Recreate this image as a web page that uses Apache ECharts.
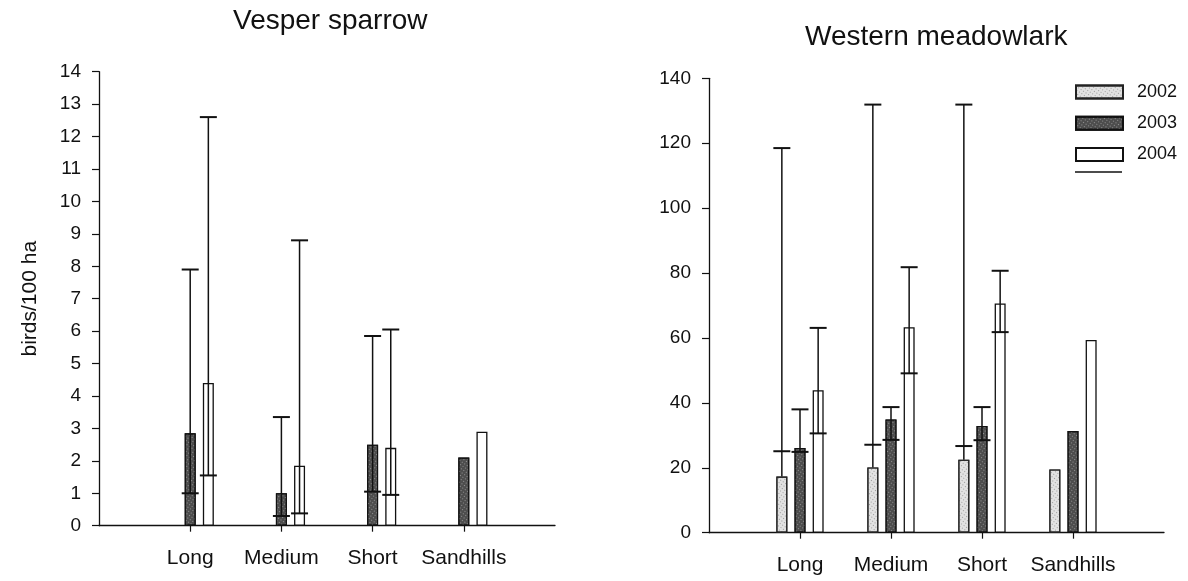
<!DOCTYPE html>
<html>
<head>
<meta charset="utf-8">
<script src="https://cdn.jsdelivr.net/npm/echarts@6/dist/echarts.min.js"></script>
<style>
  html, body { margin: 0; padding: 0; background: #fff; }
  #chart { width: 1188px; height: 581px; }
</style>
</head>
<body>
<div id="chart"></div>
<script>
// Grassland habitat classes and survey years
const habitats = ['Long', 'Medium', 'Short', 'Sandhills'];
const years = ['2002', '2003', '2004'];

// Vesper sparrow density, birds/100 ha (no 2002 estimates)
const vesper2002 = [null, null, null, null];
const vesper2003 = [2.85, 1.0, 2.5, 2.1];
const vesper2004 = [4.4, 1.85, 2.4, 2.9];
const vesper2003Low = [1.0, 0.3, 1.05, null];
const vesper2003High = [7.9, 3.35, 5.85, null];
const vesper2004Low = [1.55, 0.38, 0.95, null];
const vesper2004High = [12.6, 8.8, 6.05, null];

// Western meadowlark density, birds/100 ha
const meadow2002 = [17.3, 20.1, 22.5, 19.5];
const meadow2003 = [26.1, 34.9, 32.9, 31.3];
const meadow2004 = [43.9, 63.3, 70.6, 59.4];
const meadow2002Low = [25.1, 27.1, 26.7, null];
const meadow2002High = [118.5, 131.9, 131.9, null];
const meadow2003Low = [24.9, 28.6, 28.5, null];
const meadow2003High = [38.0, 38.7, 38.7, null];
const meadow2004Low = [30.6, 49.1, 61.8, null];
const meadow2004High = [63.1, 81.8, 80.7, null];

// Value axis ranges
const vesperAxis = { max: 14, interval: 1 };
const meadowAxis = { max: 140, interval: 20 };

// ---- drawing ----
const FONT = "'Liberation Sans', Arial, Helvetica, sans-serif";
const BAR_WIDTH = 11;
const BAR_GAP = 0.65;
const CAP = 17;
const CI_NAME = ' ';

// an empty slot before and after the habitats, so the first and last groups sit inside the axis
const axisCategories = [''].concat(habitats, ['']);
const pad = arr => [null].concat(arr, [null]);

function ciData(means, lows, highs, yearIdx) {
  const out = [];
  means.forEach((m, i) => {
    if (lows[i] != null && highs[i] != null) out.push([i + 1, lows[i], highs[i], m, yearIdx]);
  });
  return out;
}

function renderErrorBar(params, api) {
  const cat = api.value(0);
  const low = api.value(1), high = api.value(2), mean = api.value(3), yr = api.value(4);
  const step = BAR_WIDTH * (1 + BAR_GAP);
  const x = api.coord([cat, 0])[0] + (yr - 1) * step;
  const yHigh = api.coord([cat, high])[1];
  const yLow = api.coord([cat, low])[1];
  const yMean = api.coord([cat, mean])[1];
  const yStart = Math.max(yLow, yMean);
  const ink = { stroke: '#111', lineWidth: 2 };
  return {
    type: 'group',
    children: [
      { type: 'line', shape: { x1: x, y1: yStart, x2: x, y2: yHigh }, style: { stroke: '#111', lineWidth: 1.5 } },
      { type: 'line', shape: { x1: x - CAP / 2, y1: yHigh, x2: x + CAP / 2, y2: yHigh }, style: ink },
      { type: 'line', shape: { x1: x - CAP / 2, y1: yLow, x2: x + CAP / 2, y2: yLow }, style: ink }
    ]
  };
}

const speckleLight = { symbol: 'rect', symbolSize: 1, color: 'rgba(70,70,70,0.45)', dashArrayX: [1, 2], dashArrayY: [1, 2], rotation: 0.6 };
const speckleDark = { symbol: 'rect', symbolSize: 1, color: 'rgba(230,230,230,0.45)', dashArrayX: [1, 2], dashArrayY: [1, 2], rotation: 0.6 };

const yearStyles = [
  { color: '#e2e2e2', borderColor: '#222', borderWidth: 1.1, decal: speckleLight },
  { color: '#4d4d4d', borderColor: '#111', borderWidth: 1.1, decal: speckleDark },
  { color: '#ffffff', borderColor: '#111', borderWidth: 1.3 }
];

function barSeries(name, data, axisIdx, styleIdx) {
  return {
    type: 'bar', name: name, data: pad(data),
    xAxisIndex: axisIdx, yAxisIndex: axisIdx,
    barWidth: BAR_WIDTH, barGap: (BAR_GAP * 100) + '%',
    itemStyle: yearStyles[styleIdx],
    emphasis: { disabled: true },
    z: 2
  };
}

function ciSeries(data, axisIdx) {
  return {
    type: 'custom', name: CI_NAME, data: data,
    xAxisIndex: axisIdx, yAxisIndex: axisIdx,
    renderItem: renderErrorBar,
    encode: { x: 0, y: [1, 2] },
    itemStyle: { color: '#111' },
    silent: true,
    z: 3
  };
}

function xAxis(gridIndex) {
  return {
    type: 'category', gridIndex: gridIndex, data: axisCategories, boundaryGap: false,
    axisLine: { lineStyle: { color: '#111', width: 1.3 } },
    axisTick: { length: 6, lineStyle: { color: '#111', width: 1.2 }, interval: (i) => i > 0 && i < axisCategories.length - 1 },
    axisLabel: { interval: 0, fontFamily: FONT, fontSize: 21, color: '#111', margin: 22 },
    splitLine: { show: false }
  };
}

function yAxis(gridIndex, range, name) {
  return {
    type: 'value', gridIndex: gridIndex, min: 0, max: range.max, interval: range.interval,
    name: name, nameLocation: 'middle', nameRotate: 90, nameGap: 58,
    nameTextStyle: { fontFamily: FONT, fontSize: 21, color: '#111' },
    axisLine: { show: true, lineStyle: { color: '#111', width: 1.3 } },
    axisTick: { show: true, length: 7, lineStyle: { color: '#111', width: 1.2 } },
    axisLabel: { fontFamily: FONT, fontSize: 19, color: '#111', margin: 18 },
    splitLine: { show: false }
  };
}

const chart = echarts.init(document.getElementById('chart'), null, { renderer: 'canvas' });

chart.setOption({
  animation: false,
  backgroundColor: '#fff',
  title: [
    { text: 'Vesper sparrow', left: 228, top: 2, textStyle: { fontFamily: FONT, fontSize: 28, fontWeight: 'normal', color: '#111' } },
    { text: 'Western meadowlark', left: 800, top: 18, textStyle: { fontFamily: FONT, fontSize: 28, fontWeight: 'normal', color: '#111' } }
  ],
  legend: [
    {
      data: years.map(y => ({ name: y, icon: 'rect' })), orient: 'vertical', left: 1075, top: 83, padding: 0,
      itemWidth: 47, itemHeight: 13, itemGap: 13.2,
      selectedMode: false,
      textStyle: { fontFamily: FONT, fontSize: 18, color: '#111', padding: [0, 0, 0, 9] }
    },
    {
      data: [{ name: CI_NAME, icon: 'rect' }], left: 1075, top: 167, padding: 0,
      itemWidth: 47, itemHeight: 1.5,
      selectedMode: false,
      textStyle: { fontSize: 10 }
    }
  ],
  grid: [
    { left: 99, top: 71.7, width: 456, height: 454 },
    { left: 709, top: 78.3, width: 455, height: 454.4 }
  ],
  xAxis: [xAxis(0), xAxis(1)],
  yAxis: [yAxis(0, vesperAxis, 'birds/100 ha'), yAxis(1, meadowAxis, '')],
  series: [
    barSeries(years[0], vesper2002, 0, 0),
    barSeries(years[1], vesper2003, 0, 1),
    barSeries(years[2], vesper2004, 0, 2),
    ciSeries(ciData(vesper2003, vesper2003Low, vesper2003High, 1)
      .concat(ciData(vesper2004, vesper2004Low, vesper2004High, 2)), 0),
    barSeries(years[0], meadow2002, 1, 0),
    barSeries(years[1], meadow2003, 1, 1),
    barSeries(years[2], meadow2004, 1, 2),
    ciSeries(ciData(meadow2002, meadow2002Low, meadow2002High, 0)
      .concat(ciData(meadow2003, meadow2003Low, meadow2003High, 1))
      .concat(ciData(meadow2004, meadow2004Low, meadow2004High, 2)), 1)
  ]
});
</script>
</body>
</html>
